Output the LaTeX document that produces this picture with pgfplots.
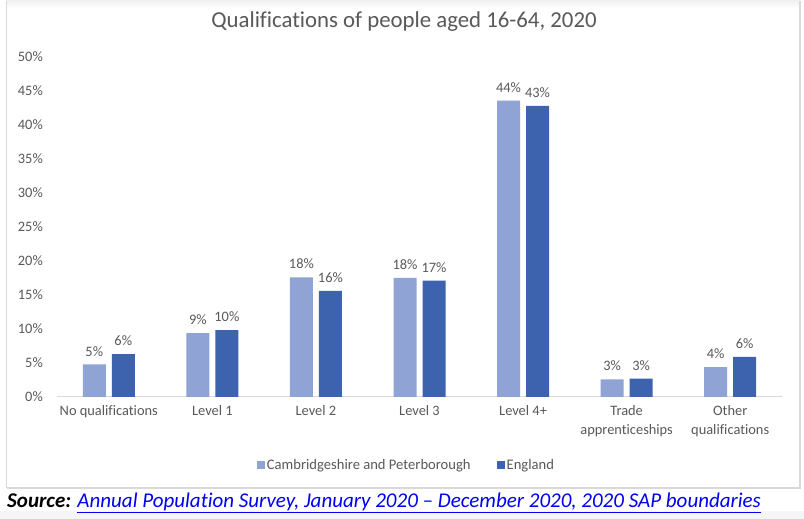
\documentclass[border=0pt]{standalone}
\usepackage{pgfplots}
\pgfplotsset{compat=1.18}
\usepackage{fontspec}
\setmainfont{Carlito}[Ligatures=NoCommon]
\definecolor{cpblue}{HTML}{8FA4D5}
\definecolor{engblue}{HTML}{3D63AE}
\definecolor{txtgray}{HTML}{595959}
\definecolor{linegray}{HTML}{D9D9D9}
\definecolor{linkblue}{HTML}{0000F0}

\begin{document}
\begin{tikzpicture}
  \useasboundingbox (0,0) rectangle (804bp,519bp);
  \fill[white] (0,0) rectangle (804bp,519bp);
  \fill[black!4] (0,0) rectangle (804bp,8bp);
  \fill[top color=black!6, bottom color=white] (6.5bp,511bp) rectangle (800bp,519bp);
  \draw[linegray, line width=1.2bp] (6.5bp,31bp) -- (6.5bp,518bp)
    (800bp,518bp) -- (800bp,31bp) -- (6.5bp,31bp);

  \node[font=\fontsize{22.8bp}{26bp}\selectfont, text=txtgray] at (404bp,497bp)
    {Qualifications of people aged 16-64, 2020};

  \begin{axis}[
      at={(57bp,122bp)}, anchor=south west,
      scale only axis,
      width=725bp, height=340bp,
      ybar=6bp, bar width=23bp,
      xmin=-0.5, xmax=6.5,
      ymin=0, ymax=50,
      xtick=data,
      xticklabels={No qualifications, Level 1, Level 2, Level 3, Level 4+,
        {Trade\\apprenticeships}, {Other\\qualifications}},
      ytick={0,5,...,50},
      yticklabel={\pgfmathprintnumber{\tick}\%},
      /pgf/number format/assume math mode=true,
      tick style={draw=none},
      major tick length=0pt,
      axis lines*=left,
      x axis line style={-, draw=linegray, line width=1bp},
      y axis line style={draw=none},
      tick label style={font=\fontsize{14.4bp}{19bp}\selectfont, text=txtgray},
      xticklabel style={align=center, anchor=north, inner sep=0pt, yshift=-8bp},
      yticklabel style={anchor=east, inner sep=0pt, xshift=-14bp},
      nodes near coords={\pgfmathprintnumber[fixed,precision=0]{\pgfplotspointmeta}\%},
      nodes near coords style={font=\fontsize{14.4bp}{16bp}\selectfont, text=txtgray,
        inner sep=0pt, anchor=south, yshift=8bp},
      legend columns=2,
      legend style={draw=none, fill=none, at={(0.482,-0.2)}, anchor=center,
        font=\fontsize{14.6bp}{16bp}\selectfont, text=txtgray,
        nodes={inner xsep=1.5bp},
        /tikz/every even column/.append style={column sep=25bp}},
      legend image code/.code={\fill[#1] (0bp,-4bp) rectangle (8bp,4bp);},
    ]
    \addplot[fill=cpblue, draw=none] coordinates {
      (0,4.8) (1,9.4) (2,17.6) (3,17.5) (4,43.6) (5,2.6) (6,4.4)
    };
    \addplot[fill=engblue, draw=none] coordinates {
      (0,6.3) (1,9.85) (2,15.6) (3,17.1) (4,42.8) (5,2.7) (6,5.9)
    };
    \legend{Cambridgeshire and Peterborough, England}
  \end{axis}

  \node[anchor=base west, inner sep=0pt, font=\fontsize{21bp}{24bp}\selectfont]
    at (7bp,12bp)
    {\textbf{\textit{Source:}} \textit{\color{linkblue}\underline{Annual Population Survey, January 2020 – December 2020, 2020 SAP boundaries}}};
\end{tikzpicture}
\end{document}
